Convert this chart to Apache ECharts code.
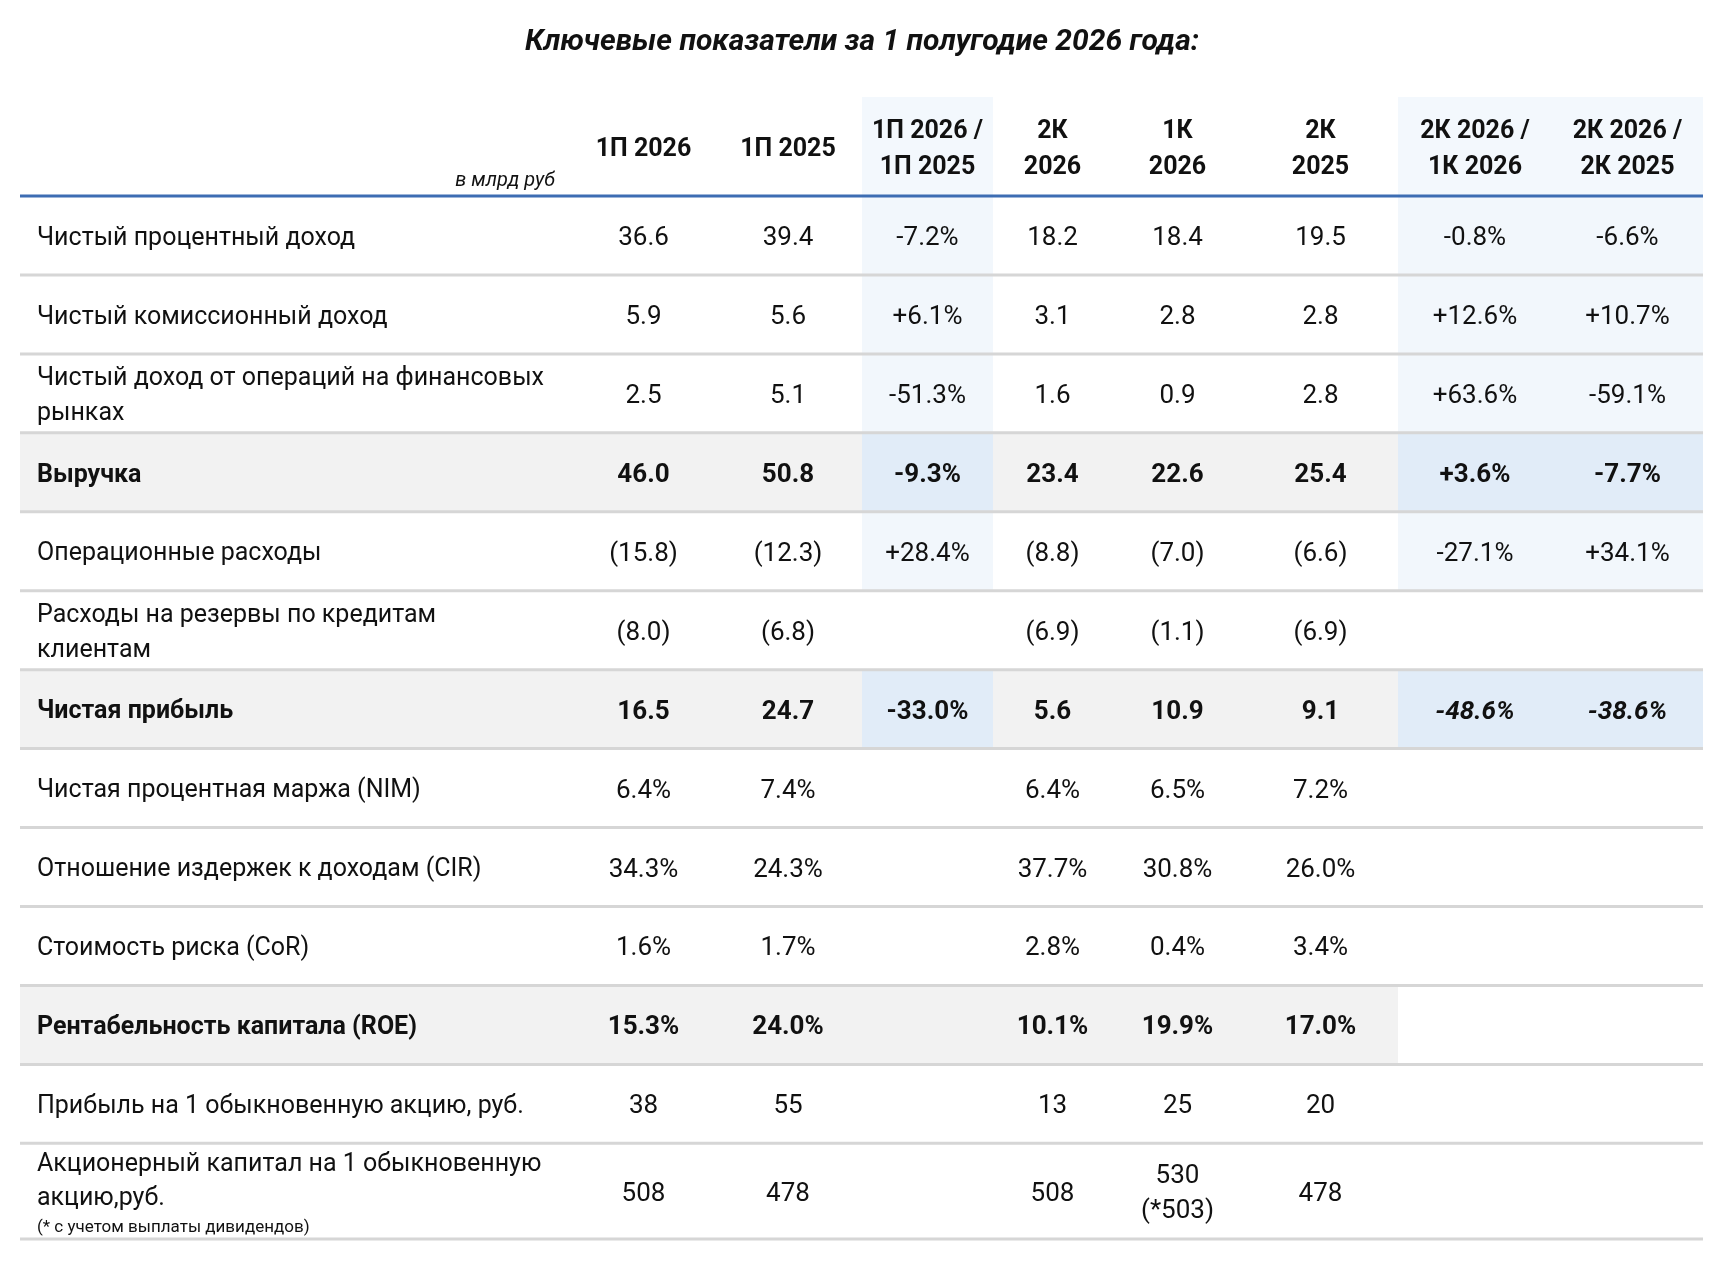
<!DOCTYPE html>
<html>
<head>
<meta charset="utf-8">
<title>Ключевые показатели</title>
<script src="https://cdn.jsdelivr.net/npm/echarts@6/dist/echarts.min.js"></script>
<style>
  html, body { margin: 0; padding: 0; background: #fff; }
  #main { width: 1724px; height: 1266px; }
</style>
</head>
<body>
<div id="main"></div>
<script>
// ---- данные таблицы ----
var colHeaders = ["", "1П 2026", "1П 2025", "1П 2026 /\n1П 2025", "2К\n2026", "1К\n2026", "2К\n2025", "2К 2026 /\n1К 2026", "2К 2026 /\n2К 2025"];
var rowLabels = [
  "Чистый процентный доход",
  "Чистый комиссионный доход",
  "Чистый доход от операций на финансовых\nрынках",
  "Выручка",
  "Операционные расходы",
  "Расходы на резервы по кредитам\nклиентам",
  "Чистая прибыль",
  "Чистая процентная маржа (NIM)",
  "Отношение издержек к доходам (CIR)",
  "Стоимость риска (CoR)",
  "Рентабельность капитала (ROE)",
  "Прибыль на 1 обыкновенную акцию, руб.",
  "Акционерный капитал на 1 обыкновенную\nакцию,руб."
];
var footnote = "(* с учетом выплаты дивидендов)";
// формат строки: bn — млрд руб, pct — проценты, rub — рубли на акцию
var rowFormat = ["bn", "bn", "bn", "bn", "bn", "bn", "bn", "pct", "pct", "pct", "pct", "rub", "rub"];
var boldRows = [3, 6, 10];

var h1_2026 = [36.6, 5.9, 2.5, 46.0, -15.8, -8.0, 16.5, 6.4, 34.3, 1.6, 15.3, 38, 508];
var h1_2025 = [39.4, 5.6, 5.1, 50.8, -12.3, -6.8, 24.7, 7.4, 24.3, 1.7, 24.0, 55, 478];
var chgH1 = [-7.2, 6.1, -51.3, -9.3, 28.4, null, -33.0, null, null, null, null, null, null];
var q2_2026 = [18.2, 3.1, 1.6, 23.4, -8.8, -6.9, 5.6, 6.4, 37.7, 2.8, 10.1, 13, 508];
var q1_2026 = [18.4, 2.8, 0.9, 22.6, -7.0, -1.1, 10.9, 6.5, 30.8, 0.4, 19.9, 25, 530];
var q1_2026Adj = 503; // с учетом выплаты дивидендов
var q2_2025 = [19.5, 2.8, 2.8, 25.4, -6.6, -6.9, 9.1, 7.2, 26.0, 3.4, 17.0, 20, 478];
var chgQoQ = [-0.8, 12.6, 63.6, 3.6, -27.1, null, -48.6, null, null, null, null, null, null];
var chgYoY = [-6.6, 10.7, -59.1, -7.7, 34.1, null, -38.6, null, null, null, null, null, null];

// ---- разметка ----
var FONT = "Roboto, 'Liberation Sans', sans-serif";
var colWidths = [553, 141, 148, 131, 119, 131, 155, 154, 151];
var headerH = 1.254, lastRowH = 1.212;
var textShift = 3; // сдвиг текста вниз, пикселей
var blueCols = [3, 7, 8];
var columns = [null, h1_2026, h1_2025, chgH1, q2_2026, q1_2026, q2_2025, chgQoQ, chgYoY];
var isChange = [false, false, false, true, false, false, false, true, true];

var colEdges = [0];
colWidths.forEach(function (w) { colEdges.push(colEdges[colEdges.length - 1] + w); });
var rowEdges = [0, headerH];
rowLabels.forEach(function (l, i) {
  rowEdges.push(rowEdges[rowEdges.length - 1] + (i === rowLabels.length - 1 ? lastRowH : 1));
});
var totalW = colEdges[colEdges.length - 1];
var totalH = rowEdges[rowEdges.length - 1];

function fmt(v, kind, change) {
  if (v === null || v === undefined) return "";
  if (change) return (v > 0 ? "+" : "") + v.toFixed(1) + "%";
  if (kind === "pct") return v.toFixed(1) + "%";
  if (kind === "rub") return String(Math.round(v));
  if (v < 0) return "(" + (-v).toFixed(1) + ")";
  return v.toFixed(1);
}

// фон ячеек
function bgColor(c, r) {
  var blue = blueCols.indexOf(c) >= 0;
  if (r === 0) return blue ? "#f3f8fd" : null;
  var i = r - 1;
  var gray = boldRows.indexOf(i) >= 0 && (i !== 10 || c <= 6);
  var blueOn = blue && i <= 6 && i !== 5;
  if (gray && blueOn) return "#e1ecf8";
  if (gray) return "#f2f2f2";
  if (blueOn) return "#f2f7fc";
  return null;
}

var bgData = [];
for (var r = 0; r < rowEdges.length - 1; r++) {
  for (var c = 0; c < colWidths.length; c++) {
    var col = bgColor(c, r);
    if (col) bgData.push({ value: [c, r], itemStyle: { color: col } });
  }
}

// тексты ячеек
var textData = [];
var textInfo = [];
for (var c2 = 1; c2 < colHeaders.length; c2++) {
  textData.push([c2, 0]);
  textInfo.push({ text: colHeaders[c2], bold: true, head: true });
}
textData.push([0, 0]);
textInfo.push({ text: "в млрд руб", italic: true, unit: true });
rowLabels.forEach(function (label, i) {
  var bold = boldRows.indexOf(i) >= 0;
  textData.push([0, i + 1]);
  textInfo.push({ text: label, bold: bold, left: true, note: i === rowLabels.length - 1 });
  for (var c3 = 1; c3 < columns.length; c3++) {
    var t = fmt(columns[c3][i], rowFormat[i], isChange[c3]);
    if (c3 === 5 && i === rowLabels.length - 1) t += "\n(*" + q1_2026Adj + ")";
    if (!t) continue;
    textData.push([c3, i + 1]);
    textInfo.push({ text: t, bold: bold, italic: i === 6 && c3 >= 7 });
  }
});

var chart = echarts.init(document.getElementById("main"));
chart.setOption({
  backgroundColor: "#fff",
  animation: false,
  title: {
    text: "Ключевые показатели за 1 полугодие 2026 года:",
    left: "center",
    top: 22,
    textStyle: { fontFamily: FONT, fontSize: 30, fontWeight: "bold", fontStyle: "italic", color: "#111" }
  },
  grid: { left: 20, right: 21, top: 97, bottom: 27 },
  xAxis: { type: "value", min: 0, max: totalW, show: false },
  yAxis: { type: "value", min: 0, max: totalH, inverse: true, show: false },
  series: [
    {
      type: "custom",
      z: 1,
      data: bgData,
      renderItem: function (params, api) {
        var c = api.value(0), r = api.value(1);
        var p0 = api.coord([colEdges[c], rowEdges[r]]);
        var p1 = api.coord([colEdges[c + 1], rowEdges[r + 1]]);
        return {
          type: "rect",
          shape: { x: p0[0], y: p0[1], width: p1[0] - p0[0], height: p1[1] - p0[1] },
          style: { fill: api.visual("color") }
        };
      }
    },
    {
      type: "custom",
      z: 2,
      data: rowEdges.slice(1).map(function (e, k) { return [k + 1]; }),
      encode: { y: 0 },
      renderItem: function (params, api) {
        var k = api.value(0);
        var p0 = api.coord([0, rowEdges[k]]);
        var p1 = api.coord([totalW, rowEdges[k]]);
        return {
          type: "line",
          shape: { x1: p0[0], y1: p0[1], x2: p1[0], y2: p1[1] },
          style: { stroke: k === 1 ? "#3d6db3" : "#d6d6d6", lineWidth: 3 }
        };
      }
    },
    {
      type: "custom",
      z: 3,
      data: textData,
      renderItem: function (params, api) {
        var c = api.value(0), r = api.value(1);
        var info = textInfo[params.dataIndex];
        var p0 = api.coord([colEdges[c], rowEdges[r]]);
        var p1 = api.coord([colEdges[c + 1], rowEdges[r + 1]]);
        var cy = (p0[1] + p1[1]) / 2 + textShift;
        var style = {
          fill: "#111",
          fontFamily: FONT,
          fontSize: 25,
          fontWeight: info.bold ? "bold" : "normal",
          fontStyle: info.italic ? "italic" : "normal",
          lineHeight: 35,
          text: info.text
        };
        if (info.unit) {
          style.x = p1[0] - 18; style.y = p1[1] - 15;
          style.align = "right"; style.verticalAlign = "middle";
          style.fontSize = 20;
        } else if (info.left) {
          style.x = p0[0] + 17; style.y = cy;
          style.align = "left"; style.verticalAlign = "middle";
          if (info.note) {
            var lines = info.text.split("\n");
            style.text = "{a|" + lines[0] + "}\n{a|" + lines[1] + "}\n{f|" + footnote + "}";
            style.rich = {
              a: { fontFamily: FONT, fontSize: 25, lineHeight: 34, fill: "#111" },
              f: { fontFamily: FONT, fontSize: 17, lineHeight: 24, fill: "#111" }
            };
          }
        } else {
          style.x = (p0[0] + p1[0]) / 2; style.y = cy;
          style.align = "center"; style.verticalAlign = "middle";
          if (info.head) style.lineHeight = 36;
          else style.fontSize = 26;
        }
        return { type: "text", style: style };
      }
    }
  ]
});
</script>
</body>
</html>
